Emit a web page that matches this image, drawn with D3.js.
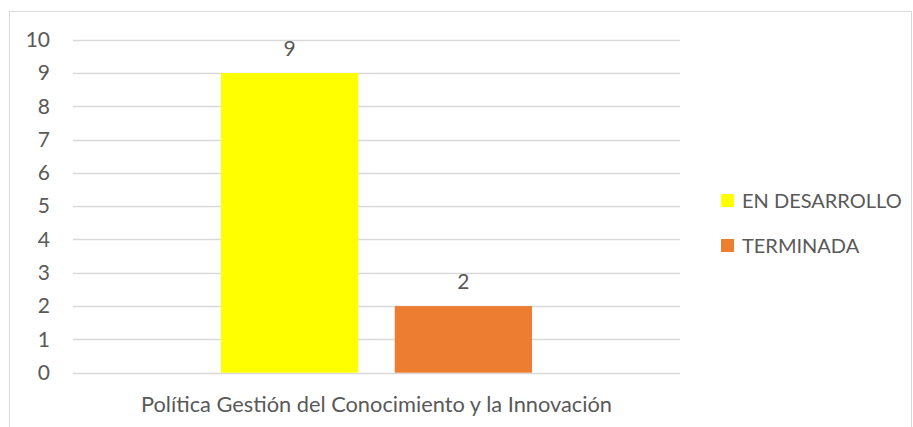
<!DOCTYPE html>
<html>
<head>
<meta charset="utf-8">
<script src="https://cdn.jsdelivr.net/npm/d3@7/dist/d3.min.js"></script>
<style>
  html, body { margin: 0; padding: 0; background: #fff; }
  svg { display: block; }
  text { font-family: "Lato", "Open Sans", sans-serif; fill: #595959; }
</style>
</head>
<body>
<svg id="chart" width="913" height="427"></svg>
<script>
// Chart data
const category = "Política Gestión del Conocimiento y la Innovación";
const seriesNames = ["EN DESARROLLO", "TERMINADA"];
const seriesValues = [9, 2];
const seriesColors = ["#FFFF00", "#ED7D31"];
const yTicks = [0, 1, 2, 3, 4, 5, 6, 7, 8, 9, 10];

const svg = d3.select("#chart");
const W = 913, H = 427;

// Outer frame
svg.append("rect")
  .attr("x", 9.5).attr("y", 11.5)
  .attr("width", W - 11).attr("height", H)
  .attr("fill", "#fff").attr("stroke", "#D9D9D9").attr("stroke-width", 1);

const plot = { left: 73, right: 680, top: 39.7, bottom: 372.7 };

const y = d3.scaleLinear().domain([0, 10]).range([plot.bottom, plot.top]);

// Category band, then series within the band
const x0 = d3.scaleBand().domain([category]).range([plot.left, plot.right]).paddingInner(0).paddingOuter(0);
const x1 = d3.scaleBand().domain(seriesNames)
  .range([x0(category) + 148, x0(category) + x0.bandwidth() - 148])
  .paddingInner(0.21).paddingOuter(0);

// Gridlines
svg.append("g")
  .selectAll("line").data(yTicks).join("line")
  .attr("x1", plot.left).attr("x2", plot.right)
  .attr("y1", d => Math.round(y(d)) + 0.5).attr("y2", d => Math.round(y(d)) + 0.5)
  .attr("stroke", "#D9D9D9").attr("stroke-width", 1.5);

// Y axis labels
const yAxis = d3.axisLeft(y).tickValues(yTicks).tickSize(0).tickPadding(0).tickFormat(d3.format("d"));
const gy = svg.append("g").attr("transform", `translate(50,0)`).call(yAxis);
gy.select(".domain").remove();
gy.selectAll("text").attr("font-size", 21).attr("fill", "#595959")
  .style("font-family", "Lato, 'Open Sans', sans-serif");

// Bars
svg.append("g").selectAll("rect").data(seriesNames).join("rect")
  .attr("x", d => x1(d))
  .attr("width", x1.bandwidth())
  .attr("y", (d, i) => y(seriesValues[i]))
  .attr("height", (d, i) => y(0) - y(seriesValues[i]))
  .attr("fill", (d, i) => seriesColors[i]);

// Value labels
svg.append("g").selectAll("text").data(seriesNames).join("text")
  .attr("x", d => x1(d) + x1.bandwidth() / 2)
  .attr("y", (d, i) => y(seriesValues[i]) - 17)
  .attr("text-anchor", "middle")
  .attr("font-size", 21)
  .attr("fill", "#404040")
  .text((d, i) => seriesValues[i]);

// Category label
svg.append("text")
  .attr("x", x0(category) + x0.bandwidth() / 2)
  .attr("y", 412)
  .attr("text-anchor", "middle")
  .attr("font-size", 21.8)
  .text(category);

// Legend
const legend = svg.append("g").attr("transform", "translate(721,194)");
const items = legend.selectAll("g").data(seriesNames).join("g")
  .attr("transform", (d, i) => `translate(0,${i * 45})`);
items.append("rect").attr("width", 13).attr("height", 13)
  .attr("fill", (d, i) => seriesColors[i]);
items.append("text").attr("x", 21).attr("y", 13.5)
  .attr("font-size", 20)
  .text(d => d);
</script>
</body>
</html>
